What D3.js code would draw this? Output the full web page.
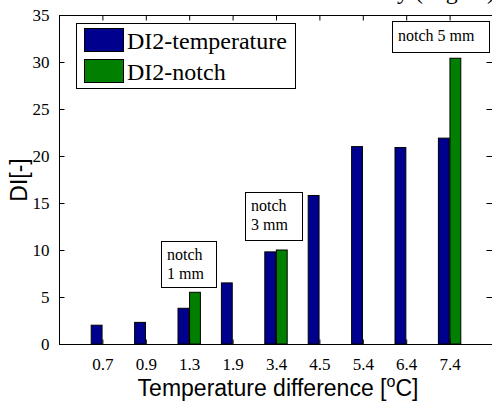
<!DOCTYPE html>
<html>
<head>
<meta charset="utf-8">
<script src="https://cdn.jsdelivr.net/npm/d3@7"></script>
<style>
  html, body { margin: 0; padding: 0; background: #fff; }
  svg { display: block; }
  .serif { font-family: "Liberation Serif", "Times New Roman", serif; }
  .sans { font-family: "Liberation Sans", Arial, sans-serif; }
</style>
</head>
<body>
<svg id="chart" width="492" height="401"></svg>
<script>
// Temperature differences (categories) and damage index per series
const categories = ["0.7", "0.9", "1.3", "1.9", "3.4", "4.5", "5.4", "6.4", "7.4"];
const tempValues = [2.0, 2.3, 3.8, 6.5, 9.8, 15.8, 21.0, 20.9, 21.9];
const notchValues = [0, 0, 5.5, 0, 10.0, 0, 0, 0, 30.4];
const yTicks = [0, 5, 10, 15, 20, 25, 30, 35];
const seriesNames = ["DI2-temperature", "DI2-notch"];
const notes = [
  { cat: "1.3", lines: ["notch", "1 mm"] },
  { cat: "3.4", lines: ["notch", "3 mm"] },
  { cat: "7.4", lines: ["notch 5 mm"] }
];

const svg = d3.select("#chart");
const plotL = 59, plotR = 493, plotT = 15, plotB = 344;
const colors = ["#00008f", "#007f00"];

const x = d3.scaleLinear().domain([0, categories.length + 1]).range([plotL, plotR]);
const y = d3.scaleLinear().domain([0, 35]).range([plotB, plotT]);

// Title line sits above the frame; only its descenders reach into view
const title = svg.append("text").attr("class", "serif")
  .attr("y", -1).attr("font-size", 24).attr("fill", "#000")
  .text("Sensitivity (degree)");
const pre = title.node().getSubStringLength(0, 10);
title.attr("x", 397 - pre);

// Bars
const bw = 0.25, gap = 0.008;
const series = [tempValues, notchValues];
series.forEach((vals, s) => {
  svg.append("g").selectAll("rect").data(vals).join("rect")
    .attr("x", (d, i) => s === 0 ? x(i + 1 - gap - bw) : x(i + 1 + gap))
    .attr("width", x(bw) - x(0))
    .attr("y", d => y(d))
    .attr("height", d => y(0) - y(d))
    .attr("fill", colors[s])
    .attr("stroke", "#000")
    .attr("stroke-width", 1);
});

// Axes frame
const gAx = svg.append("g").attr("stroke", "#000").attr("stroke-width", 1).attr("fill", "none");
gAx.append("line").attr("x1", plotL + 0.5).attr("x2", plotL + 0.5).attr("y1", plotT).attr("y2", plotB + 1);
gAx.append("line").attr("x1", plotL).attr("x2", plotR).attr("y1", plotT + 0.5).attr("y2", plotT + 0.5);
gAx.append("line").attr("x1", plotL).attr("x2", plotR).attr("y1", plotB + 0.5).attr("y2", plotB + 0.5);
gAx.append("line").attr("x1", plotR - 0.5).attr("x2", plotR - 0.5).attr("y1", plotT).attr("y2", plotB);

// Y axis with ticks and labels
const yAxis = svg.append("g").attr("transform", `translate(${plotL + 0.5},0)`)
  .call(d3.axisLeft(y).tickValues(yTicks).tickSize(-5).tickPadding(10).tickFormat(d3.format("d")));
yAxis.select(".domain").remove();
yAxis.selectAll("text").attr("class", "serif").attr("font-size", 17).attr("fill", "#000");
yAxis.selectAll("line").attr("stroke", "#000");

// Mirrored ticks on the right
svg.append("g").attr("transform", `translate(${plotR - 0.5},0)`)
  .call(d3.axisRight(y).tickValues(yTicks).tickSize(-6).tickFormat(""))
  .call(g => g.select(".domain").remove())
  .selectAll("line").attr("stroke", "#000");

// X axis with category ticks (bottom labelled, top mirrored)
const xTickVals = categories.map((c, i) => i + 1);
const xAxis = svg.append("g").attr("transform", `translate(0,${plotB + 0.5})`)
  .call(d3.axisBottom(x).tickValues(xTickVals).tickSize(-5).tickPadding(13)
    .tickFormat(d => categories[d - 1]));
xAxis.select(".domain").remove();
xAxis.selectAll("text").attr("class", "serif").attr("font-size", 17).attr("fill", "#000");
xAxis.selectAll("line").attr("stroke", "#000");

svg.append("g").attr("transform", `translate(0,${plotT + 0.5})`)
  .call(d3.axisTop(x).tickValues(xTickVals).tickSize(-5).tickFormat(""))
  .call(g => g.select(".domain").remove())
  .selectAll("line").attr("stroke", "#000");

// Axis titles
svg.append("text").attr("class", "sans")
  .attr("transform", "translate(27,180) rotate(-90)")
  .attr("text-anchor", "middle").attr("font-size", 23).attr("fill", "#000")
  .text("DI[-]");

const xl = svg.append("text").attr("class", "sans")
  .attr("x", (plotL + plotR) / 2 + 2).attr("y", 396)
  .attr("text-anchor", "middle").attr("font-size", 23).attr("fill", "#000");
xl.append("tspan").text("Temperature difference [");
xl.append("tspan").attr("font-size", 16).attr("dy", -9).text("o");
xl.append("tspan").attr("dy", 9).text("C]");

// Legend
const lg = svg.append("g");
lg.append("rect").attr("x", 76.5).attr("y", 23.5).attr("width", 219).attr("height", 65)
  .attr("fill", "#fff").attr("stroke", "#000");
seriesNames.forEach((name, i) => {
  lg.append("rect").attr("x", 84.5).attr("y", 28.5 + i * 31).attr("width", 39).attr("height", 23)
    .attr("fill", colors[i]).attr("stroke", "#000");
  lg.append("text").attr("class", "serif").attr("x", 127).attr("y", 49 + i * 31)
    .attr("font-size", 24).attr("fill", "#000").text(name);
});

// Annotation boxes
const boxes = [
  { x: 161, y: 241, w: 55, h: 46 },
  { x: 245, y: 192, w: 57, h: 48 },
  { x: 392, y: 21, w: 97, h: 31 }
];
notes.forEach((n, k) => {
  const b = boxes[k];
  const g = svg.append("g");
  g.append("rect").attr("x", b.x + 0.5).attr("y", b.y + 0.5).attr("width", b.w).attr("height", b.h)
    .attr("fill", "#fff").attr("stroke", "#000");
  n.lines.forEach((t, j) => {
    g.append("text").attr("class", "serif")
      .attr("x", b.x + 6).attr("y", b.y + (n.lines.length === 1 ? 20 : 19 + j * 19))
      .attr("font-size", 16).attr("fill", "#000").text(t);
  });
});
</script>
</body>
</html>
